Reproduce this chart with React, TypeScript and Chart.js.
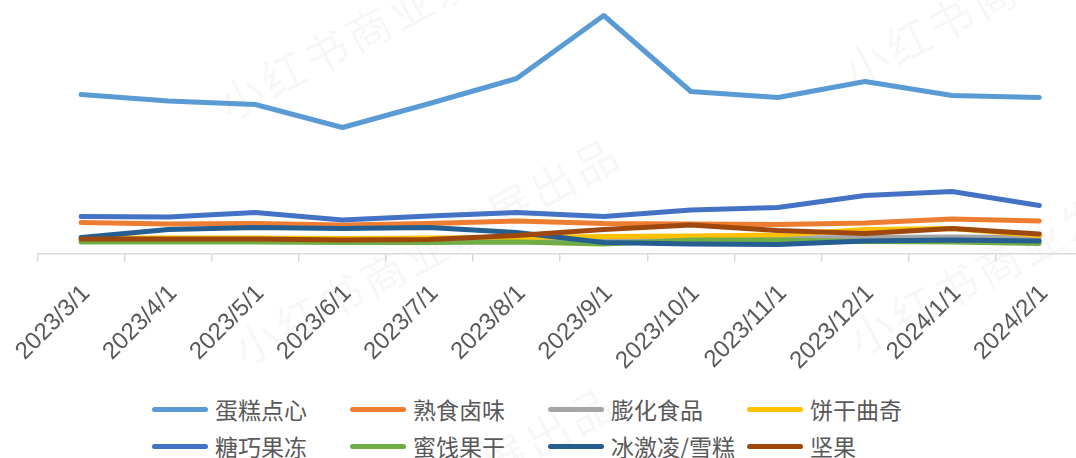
import React, { useEffect, useRef } from "react";
import { Chart, registerables } from "chart.js";

Chart.register(...registerables);

const categories = [
  "2023/3/1", "2023/4/1", "2023/5/1", "2023/6/1", "2023/7/1", "2023/8/1",
  "2023/9/1", "2023/10/1", "2023/11/1", "2023/12/1", "2024/1/1", "2024/2/1",
];

const seriesNames = ["蛋糕点心", "熟食卤味", "膨化食品", "饼干曲奇", "糖巧果冻", "蜜饯果干", "冰激凌/雪糕", "坚果"];
const seriesColors = ["#5B9BD5", "#ED7D31", "#A5A5A5", "#FFC000", "#4472C4", "#70AD47", "#255E91", "#9E480E"];

const cake = [159, 152.5, 149, 126, 150, 175, 238, 162, 156, 172, 158, 156];
const deli = [31, 29.5, 30, 28.5, 30, 32.5, 30, 29.5, 29, 30.5, 34.5, 32.5];
const puffed = [13.5, 13.5, 13.5, 13, 13.5, 13.5, 15, 15, 15.5, 16, 16.5, 16];
const biscuit = [15.5, 15.5, 15.5, 15, 15.5, 16, 17, 17.5, 18.5, 24, 25, 18];
const candy = [37, 36.5, 41, 33.5, 37.5, 41, 37, 43.5, 46, 58, 62, 48];
const dried = [11.5, 11.5, 11.5, 11, 11, 11.5, 9.5, 13.5, 13.5, 12, 11.5, 10];
const icecream = [16, 24, 26, 25, 26, 21, 11, 9.5, 9, 12.5, 13.5, 12.5];
const nuts = [14.5, 14.5, 14.5, 13.5, 14, 18, 24, 28.5, 23, 20, 25, 19.5];

const seriesValues = [cake, deli, puffed, biscuit, candy, dried, icecream, nuts];

const watermarkText = "小红书商业发展出品";
const watermarkSpots = [
  [240, 95], [865, 62], [-365, 340], [255, 340], [870, 330], [-365, 590], [250, 590], [865, 590],
];

const AXIS_Y = 253.5;
const TOP = 4;
const CANVAS_W = 1100;
const CANVAS_H = 380;

export default function App() {
  const canvasRef = useRef<HTMLCanvasElement | null>(null);

  useEffect(() => {
    if (!canvasRef.current) return;
    const chart = new Chart(canvasRef.current, {
      type: "line",
      data: {
        labels: categories,
        datasets: seriesNames.map((name, i) => ({
          label: name,
          data: seriesValues[i],
          borderColor: seriesColors[i],
          backgroundColor: seriesColors[i],
          borderWidth: 5,
          borderCapStyle: "round" as const,
          borderJoinStyle: "round" as const,
          pointRadius: 0,
          tension: 0,
          fill: false,
          order: -i,
        })),
      },
      options: {
        responsive: false,
        animation: false,
        layout: { padding: { left: 37.6, right: CANVAS_W - 1082.8, top: TOP, bottom: 0 } },
        plugins: { legend: { display: false }, tooltip: { enabled: false } },
        scales: {
          x: {
            offset: true,
            grid: {
              display: true,
              offset: true,
              drawOnChartArea: false,
              drawTicks: true,
              tickLength: 8,
              color: "#D9D9D9",
              lineWidth: 1.5,
            },
            border: { display: true, color: "#D9D9D9", width: 1.5 },
            ticks: {
              minRotation: 45,
              maxRotation: 45,
              autoSkip: false,
              padding: 18,
              labelOffset: 5,
              color: "#595959",
              font: { family: "'Liberation Sans', Arial, sans-serif", size: 24 },
            },
            afterFit: (scale: any) => {
              scale.height = CANVAS_H - AXIS_Y;
              scale.paddingLeft = 0;
              scale.paddingRight = 0;
            },
          },
          y: {
            display: false,
            min: 0,
            max: AXIS_Y - TOP,
          },
        },
      },
    });
    return () => chart.destroy();
  }, []);

  const legendCols = [152, 350, 548, 747];
  const legendRows = [409, 446];

  return (
    <div
      style={{
        position: "fixed",
        left: 0,
        top: 0,
        width: 1076,
        height: 458,
        overflow: "hidden",
        background: "#ffffff",
      }}
    >
      {watermarkSpots.map(([x, y], k) => (
        <div
          key={"wm" + k}
          style={{
            position: "absolute",
            left: x - 22,
            top: y - 26,
            height: 52,
            lineHeight: "52px",
            whiteSpace: "nowrap",
            fontFamily: "'Noto Sans CJK SC', sans-serif",
            fontSize: 44,
            letterSpacing: 4,
            color: "rgba(0,0,0,0.05)",
            transform: "rotate(-28deg)",
            transformOrigin: "22px 26px",
          }}
        >
          {watermarkText}
        </div>
      ))}
      <div style={{ position: "absolute", left: 0, top: 0, width: CANVAS_W, height: CANVAS_H }}>
        <canvas
          ref={canvasRef}
          width={CANVAS_W}
          height={CANVAS_H}
          style={{ width: CANVAS_W, height: CANVAS_H, display: "block" }}
        />
      </div>
      {seriesNames.map((name, i) => {
        const col = i % 4;
        const row = Math.floor(i / 4);
        const x = legendCols[col];
        const y = legendRows[row];
        return (
          <div key={name}>
            <div
              style={{
                position: "absolute",
                left: x,
                top: y - 2.5,
                width: 56,
                height: 5,
                borderRadius: 2.5,
                background: seriesColors[i],
              }}
            />
            <div
              style={{
                position: "absolute",
                left: x + 63,
                top: y - 16,
                height: 32,
                lineHeight: "32px",
                whiteSpace: "nowrap",
                fontFamily: "'Noto Sans CJK SC', sans-serif",
                fontSize: 23,
                color: "#595959",
              }}
            >
              {name}
            </div>
          </div>
        );
      })}
    </div>
  );
}
